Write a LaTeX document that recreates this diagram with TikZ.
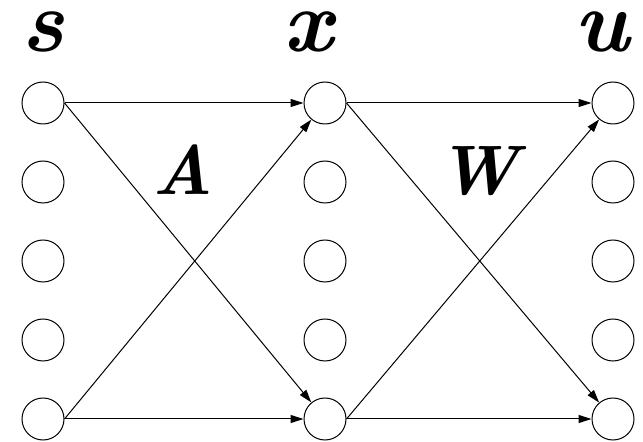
\documentclass[tikz,border=0pt]{standalone}
\usepackage{fontspec}
\usetikzlibrary{arrows.meta}
\begin{document}
\begin{tikzpicture}[x=1pt,y=1pt,
  unit/.style={circle,draw,line width=1pt,minimum size=42pt,inner sep=0pt},
  arr/.style={line width=1pt,-{Triangle[length=13pt,width=8pt]}},
  lab/.style={anchor=base,inner sep=0pt,font=\fontsize{88}{88}\selectfont\bfseries\itshape},
  mat/.style={anchor=base,inner sep=0pt,font=\fontsize{70}{70}\selectfont\bfseries\itshape}]
\useasboundingbox (0,0) rectangle (643,442);
\foreach \i/\y in {1/339,2/260,3/181,4/102,5/23}{
  \node[unit] (s\i) at (43,\y) {};
  \node[unit] (x\i) at (325,\y) {};
  \node[unit] (u\i) at (613,\y) {};
}
\node[lab] (ls) at (43,390) {s};
\node[lab] (lx) at (308,390) {x};
\node[lab] (lu) at (602,390) {u};
\node[mat] (lA) at (183,247) {A};
\node[mat] (lW) at (478,247) {W};
\draw[arr] (s1.east) -- (x1.west);
\draw[arr] (s1.east) -- (x5);
\draw[arr] (s5.east) -- (x1);
\draw[arr] (s5.east) -- (x5.west);
\draw[arr] (x1.east) -- (u1.west);
\draw[arr] (x1.east) -- (u5);
\draw[arr] (x5.east) -- (u1);
\draw[arr] (x5.east) -- (u5.west);
\end{tikzpicture}
\end{document}
